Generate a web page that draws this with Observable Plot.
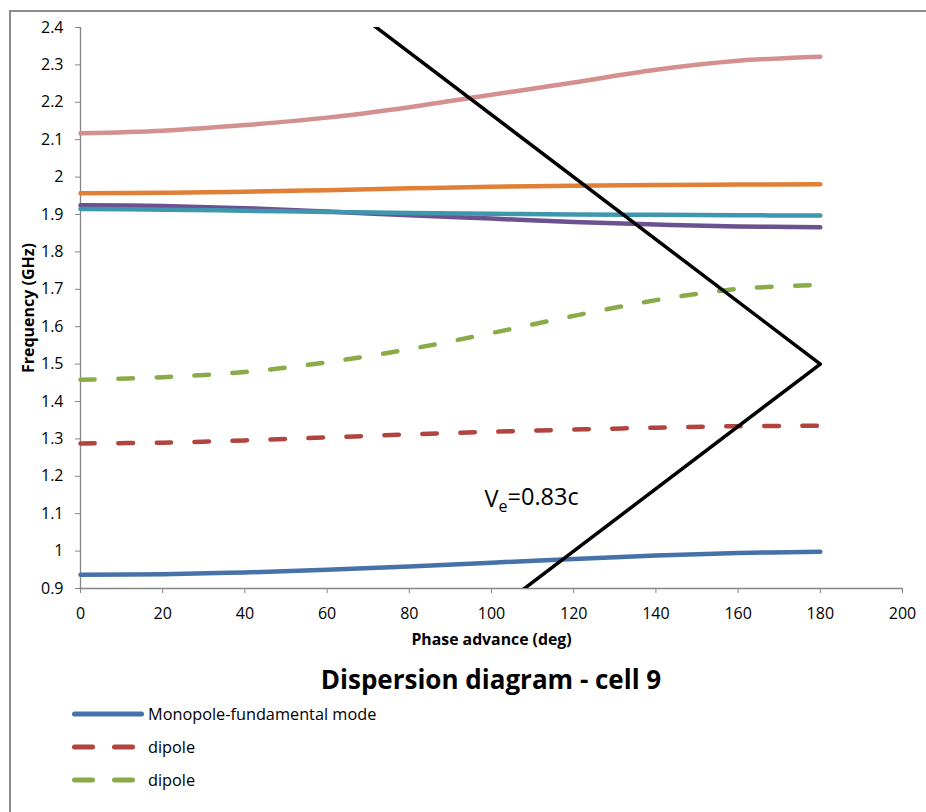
<!DOCTYPE html>
<html>
<head>
<meta charset="utf-8">
<script src="https://cdn.jsdelivr.net/npm/d3@7"></script>
<script src="https://cdn.jsdelivr.net/npm/@observablehq/plot@0.6"></script>
<style>
  body { margin: 0; background: #fff; font-family: "Open Sans", sans-serif; overflow: hidden; }
  #wrap { position: relative; width: 926px; height: 812px; overflow: hidden; background: #fff; }
  #frame { position: absolute; left: 9px; top: 10px; width: 1000px; height: 1000px;
           border: 2px solid #8e8e8e; box-sizing: border-box; pointer-events: none; }
  #chart { position: absolute; left: 0; top: 0; }
  #title { position: absolute; left: 80px; width: 822px; top: 664px; line-height: 30px;
           text-align: center; font-weight: 700; font-size: 26px; color: #000; }
  #legend { position: absolute; left: 70px; top: 697px; }
  .row { display: flex; align-items: center; height: 33px; font-size: 16.3px; color: #000; }
  .row svg { margin-right: 2px; }
</style>
</head>
<body>
<div id="wrap">
  <div id="chart"></div>
  <div id="title">Dispersion diagram - cell 9</div>
  <div id="legend"></div>
  <div id="frame"></div>
</div>
<script>
// Phase advance per cell (deg) at which each mode was computed
const phase = [0, 20, 40, 60, 80, 100, 120, 140, 160, 180];

// Mode frequencies (GHz)
const monopole   = [0.937, 0.938, 0.943, 0.950, 0.959, 0.969, 0.979, 0.988, 0.995, 0.998];
const dipoleRed  = [1.288, 1.290, 1.296, 1.304, 1.312, 1.319, 1.325, 1.330, 1.334, 1.335];
const dipoleGrn  = [1.458, 1.465, 1.479, 1.505, 1.540, 1.583, 1.629, 1.671, 1.701, 1.712];
const modePurple = [1.925, 1.923, 1.917, 1.908, 1.898, 1.889, 1.880, 1.873, 1.868, 1.866];
const modeTeal   = [1.915, 1.913, 1.910, 1.907, 1.904, 1.902, 1.900, 1.899, 1.898, 1.897];
const modeOrange = [1.957, 1.958, 1.961, 1.965, 1.970, 1.974, 1.977, 1.979, 1.980, 1.981];
const modePink   = [2.117, 2.124, 2.139, 2.159, 2.187, 2.220, 2.253, 2.287, 2.311, 2.322];

// Beam line (Ve = 0.83c), folded at 180 deg
const lightPhase = [0, 180, 0];
const lightFreq  = [0, 1.5, 3.0];

// Axis ticks
const xTicks = [0, 20, 40, 60, 80, 100, 120, 140, 160, 180, 200];
const yTicks = [0.9, 1.0, 1.1, 1.2, 1.3, 1.4, 1.5, 1.6, 1.7, 1.8, 1.9, 2.0, 2.1, 2.2, 2.3, 2.4];
const yTickLabels = ["0.9", "1", "1.1", "1.2", "1.3", "1.4", "1.5", "1.6", "1.7", "1.8", "1.9", "2", "2.1", "2.2", "2.3", "2.4"];

const series = [
  {name: "Monopole-fundamental mode", values: monopole,   color: "#4672aa", dash: null},
  {name: "dipole",                    values: dipoleRed,  color: "#b2443f", dash: "14.5,23.5"},
  {name: "dipole",                    values: dipoleGrn,  color: "#8aab48", dash: "14.5,23.5"},
  {name: "mode 4",                    values: modePurple, color: "#6c5190", dash: null},
  {name: "mode 5",                    values: modeTeal,   color: "#3f96ad", dash: null},
  {name: "mode 6",                    values: modeOrange, color: "#e07f35", dash: null},
  {name: "mode 7",                    values: modePink,   color: "#d48f8f", dash: null}
];
const legendCount = 3;

const toRows = s => phase.map((p, i) => ({phase: p, freq: s.values[i]}));
const lightRows = lightPhase.map((p, i) => ({phase: p, freq: lightFreq[i]}));

const axisGray = "#868686";

const lineMarks = series.map(s =>
  Plot.line(toRows(s), {
    x: "phase", y: "freq", curve: "catmull-rom",
    stroke: s.color, strokeWidth: 4.5, strokeLinecap: "round",
    strokeDasharray: s.dash ?? undefined
  })
);

const chart = Plot.plot({
  width: 926,
  height: 650,
  marginTop: 27,
  marginBottom: 62,
  marginLeft: 80,
  marginRight: 24,
  style: {fontFamily: "'Open Sans', sans-serif", fontSize: "16px", color: "#000", background: "transparent"},
  x: {domain: [0, 200]},
  y: {domain: [0.9, 2.4]},
  marks: [
    Plot.axisY(yTicks, {
      tickSize: 5, tickPadding: 12, stroke: axisGray, fill: "#000", fontSize: 16,
      tickFormat: d => yTickLabels[yTicks.indexOf(d)], label: null
    }),
    Plot.axisX(xTicks, {
      tickSize: 5, tickPadding: 14, stroke: axisGray, fill: "#000", fontSize: 16,
      tickFormat: d => String(d), label: null
    }),
    Plot.ruleX([0], {stroke: axisGray, strokeWidth: 1.3}),
    Plot.ruleY([0.9], {stroke: axisGray, strokeWidth: 1.3}),
    ...lineMarks,
    Plot.line(lightRows, {x: "phase", y: "freq", stroke: "#000", strokeWidth: 3.5, clip: true}),
    Plot.text(["Ve=0.83c"], {x: () => 98.3, y: () => 1.138, text: d => d, textAnchor: "start", fontSize: 23.5, fill: "#000"}),
    Plot.text(["Frequency (GHz)"], {frameAnchor: "left", dx: -52, rotate: -90, textAnchor: "middle", lineAnchor: "middle", text: d => d, fontWeight: "bold", fontSize: 16, fill: "#000"}),
    Plot.text(["Phase advance (deg)"], {frameAnchor: "bottom", dy: 51, textAnchor: "middle", lineAnchor: "middle", text: d => d, fontWeight: "bold", fontSize: 15.8, fill: "#000"})
  ]
});

// Subscript "e" in the velocity label
d3.select(chart).selectAll("text")
  .filter(function () { return this.textContent === "Ve=0.83c"; })
  .each(function () {
    const t = d3.select(this);
    t.text(null);
    t.append("tspan").text("V");
    t.append("tspan").attr("dy", "0.3em").attr("font-size", "16px").text("e");
    t.append("tspan").attr("dy", "-0.3em").text("=0.83c");
  });

document.getElementById("chart").append(chart);

// Legend (first three series)
const legend = d3.select("#legend");
series.slice(0, legendCount).forEach(s => {
  const row = legend.append("div").attr("class", "row");
  const sw = row.append("svg").attr("width", 76).attr("height", 12);
  sw.append("line")
    .attr("x1", 4.5).attr("x2", 71.5).attr("y1", 6).attr("y2", 6)
    .attr("stroke", s.color).attr("stroke-width", 5).attr("stroke-linecap", "round")
    .attr("stroke-dasharray", s.dash ? "18,22" : null);
  row.append("span").text(s.name);
});
</script>
</body>
</html>
